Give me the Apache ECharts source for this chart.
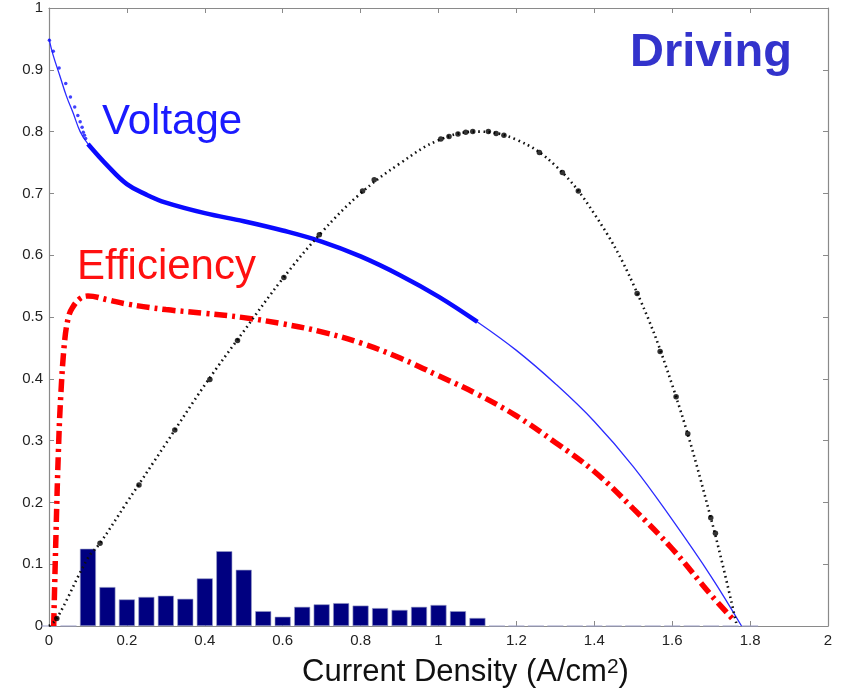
<!DOCTYPE html>
<html>
<head>
<meta charset="utf-8">
<script src="https://cdn.jsdelivr.net/npm/echarts@6/dist/echarts.min.js"></script>
<style>html,body{margin:0;padding:0;background:#fff;}#c{width:845px;height:692px;}</style>
</head>
<body>
<div id="c"></div>
<script>
// ---- data ----
var xTicks = [0, 0.2, 0.4, 0.6, 0.8, 1, 1.2, 1.4, 1.6, 1.8, 2];
var yTicks = [0, 0.1, 0.2, 0.3, 0.4, 0.5, 0.6, 0.7, 0.8, 0.9, 1];

var binCenters = [0, 0.05, 0.1, 0.15, 0.2, 0.25, 0.3, 0.35, 0.4, 0.45, 0.5, 0.55, 0.6, 0.65, 0.7, 0.75, 0.8, 0.85, 0.9, 0.95, 1.0, 1.05, 1.1, 1.15, 1.2, 1.25, 1.3, 1.35, 1.4, 1.45, 1.5, 1.55, 1.6, 1.65, 1.7, 1.75, 1.8];
var binValues  = [0, 0, 0.125, 0.063, 0.043, 0.047, 0.049, 0.044, 0.077, 0.121, 0.091, 0.024, 0.015, 0.031, 0.035, 0.037, 0.033, 0.029, 0.026, 0.031, 0.034, 0.024, 0.013, 0, 0, 0, 0, 0, 0, 0, 0, 0, 0, 0, 0, 0, 0];

var voltX = [0, 0.01, 0.028, 0.045, 0.062, 0.08, 0.1, 0.15, 0.2, 0.25, 0.3, 0.4, 0.5, 0.6, 0.7, 0.8, 0.9, 1.0, 1.1, 1.2, 1.3, 1.4, 1.5, 1.6, 1.7, 1.778];
var voltY = [0.95, 0.925, 0.89, 0.857, 0.83, 0.80, 0.78, 0.745, 0.715, 0.698, 0.685, 0.668, 0.655, 0.64, 0.622, 0.598, 0.568, 0.533, 0.492, 0.446, 0.392, 0.331, 0.258, 0.172, 0.08, 0];
var voltThickFrom = 0.088, voltThickTo = 1.11;

var voltDotsX = [0.001, 0.011, 0.026, 0.043, 0.055, 0.066, 0.074, 0.080, 0.085, 0.088, 0.091, 0.094];
var voltDotsY = [0.948, 0.930, 0.903, 0.878, 0.856, 0.840, 0.826, 0.816, 0.807, 0.799, 0.794, 0.789];

var effX = [0.012, 0.018, 0.024, 0.03, 0.04, 0.05, 0.06, 0.08, 0.1, 0.15, 0.2, 0.3, 0.4, 0.5, 0.6, 0.7, 0.8, 0.9, 1.0, 1.1, 1.2, 1.3, 1.4, 1.5, 1.6, 1.7, 1.76];
var effY = [0, 0.15, 0.28, 0.37, 0.46, 0.50, 0.515, 0.53, 0.534, 0.528, 0.521, 0.512, 0.506, 0.499, 0.489, 0.476, 0.458, 0.434, 0.405, 0.375, 0.34, 0.297, 0.25, 0.19, 0.125, 0.05, 0.008];

var powX = [0, 0.02, 0.1, 0.131, 0.2, 0.3, 0.4, 0.5, 0.6, 0.7, 0.8, 0.9, 1.0, 1.1, 1.2, 1.3, 1.4, 1.5, 1.6, 1.7, 1.766];
var powY = [0, 0.012, 0.11, 0.134, 0.20, 0.295, 0.39, 0.477, 0.562, 0.637, 0.70, 0.748, 0.786, 0.80, 0.787, 0.745, 0.667, 0.553, 0.39, 0.173, 0];

var powDotsX = [0.02, 0.131, 0.231, 0.323, 0.413, 0.484, 0.603, 0.694, 0.805, 0.835, 1.006, 1.027, 1.05, 1.07, 1.088, 1.128, 1.148, 1.168, 1.259, 1.318, 1.359, 1.510, 1.569, 1.610, 1.640, 1.699, 1.711];
var powDotsY = [0.012, 0.134, 0.228, 0.317, 0.399, 0.462, 0.564, 0.633, 0.704, 0.722, 0.788, 0.792, 0.796, 0.799, 0.80, 0.80, 0.797, 0.794, 0.766, 0.734, 0.704, 0.538, 0.444, 0.371, 0.311, 0.175, 0.150];

function zip(a, b) { return a.map(function (v, i) { return [v, b[i]]; }); }

var chart = echarts.init(document.getElementById('c'), null, { renderer: 'canvas' });
var FONT = '"Liberation Sans", Arial, Helvetica, sans-serif';
var axisCol = '#8a8a8a';

function xAx(pos, labels) {
  return {
    type: 'value', min: 0, max: 2, interval: 0.2, position: pos,
    axisLine: { show: true, onZero: false, lineStyle: { color: axisCol, width: 1.2 } },
    axisTick: { show: true, inside: true, length: 5, lineStyle: { color: axisCol } },
    axisLabel: { show: labels, color: '#222', fontSize: 15, fontFamily: FONT, margin: 7 },
    splitLine: { show: false }
  };
}
function yAx(pos, labels) {
  return {
    type: 'value', min: 0, max: 1, interval: 0.1, position: pos,
    axisLine: { show: true, onZero: false, lineStyle: { color: axisCol, width: 1.2 } },
    axisTick: { show: true, inside: true, length: 5, lineStyle: { color: axisCol } },
    axisLabel: { show: labels, color: '#222', fontSize: 15, fontFamily: FONT, margin: 6 },
    splitLine: { show: false }
  };
}

var thick = zip(voltX, voltY).filter(function (p) { return p[0] >= voltThickFrom - 1e-9 && p[0] <= voltThickTo; });

chart.setOption({
  animation: false,
  backgroundColor: '#fff',
  grid: { left: 49, right: 17, top: 8, bottom: 66, containLabel: false },
  xAxis: [xAx('bottom', true), xAx('top', false)],
  yAxis: [yAx('left', true), yAx('right', false)],
  series: [
    {
      type: 'bar', data: zip(binCenters, binValues), barWidth: 16, z: 1,
      itemStyle: { color: '#000080', borderColor: '#9aa0c8', borderWidth: 0.6 }
    },
    {
      type: 'line', data: zip(effX, effY), showSymbol: false, symbol: 'none', smooth: 0.4, z: 3,
      lineStyle: { color: '#ff0000', width: 5.5, type: [13, 5, 3, 5] }
    },
    {
      type: 'line', data: zip(voltX, voltY), symbol: 'none', smooth: 0.4, z: 4,
      lineStyle: { color: '#2b2bff', width: 1.3 }
    },
    {
      type: 'line', data: thick, symbol: 'none', smooth: 0.4, z: 4,
      lineStyle: { color: '#0a0aff', width: 4.5 }
    },
    {
      type: 'scatter', data: zip(voltDotsX, voltDotsY), symbolSize: 3.5, z: 5,
      itemStyle: { color: '#1010ff' }
    },
    {
      type: 'line', data: zip(powX, powY), symbol: 'none', smooth: 0.4, z: 4,
      lineStyle: { color: '#111', width: 2.6, type: [1.6, 3.6] }
    },
    {
      type: 'scatter', data: zip(powDotsX, powDotsY), symbolSize: 5.5, z: 6,
      itemStyle: { color: '#000' }
    }
  ],
  graphic: [
    { type: 'text', left: 630, top: 30, style: { text: 'Driving', fill: '#3333cc', font: 'bold 47px ' + FONT } },
    { type: 'text', left: 102, top: 101, style: { text: 'Voltage', fill: '#1a1aff', font: '42px ' + FONT } },
    { type: 'text', left: 77, top: 246, style: { text: 'Efficiency', fill: '#ff1010', font: '42px ' + FONT } },
    {
      type: 'text', left: 302, top: 657,
      style: {
        text: '{a|Current Density (A/cm}{b|2}{a|)}',
        rich: {
          a: { fontSize: 31, fontFamily: FONT, fill: '#111', color: '#111' },
          b: { fontSize: 21, fontFamily: FONT, fill: '#111', color: '#111', verticalAlign: 'top', padding: [0, 0, 6, 0] }
        }
      }
    }
  ]
});
</script>
</body>
</html>
